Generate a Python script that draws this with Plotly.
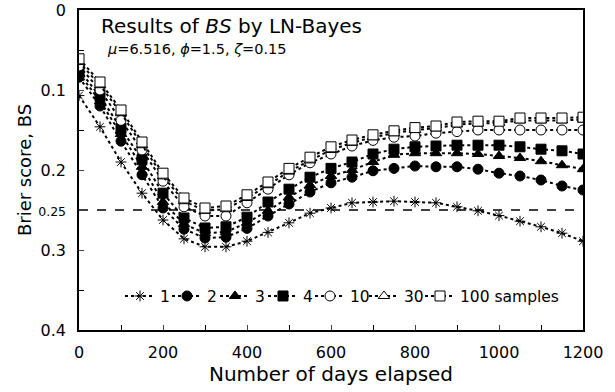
import plotly.graph_objects as go

days = list(range(0, 1201, 50))

bs_1 = [0.107, 0.146, 0.19, 0.229, 0.2625, 0.286, 0.296, 0.296, 0.289, 0.278, 0.266, 0.254, 0.2475,
        0.241, 0.24, 0.239, 0.24, 0.241, 0.246, 0.251, 0.257, 0.264, 0.271, 0.279, 0.289]
bs_2 = [0.084, 0.12, 0.164, 0.206, 0.2475, 0.274, 0.285, 0.284, 0.273, 0.2575, 0.2425, 0.2275, 0.216,
        0.209, 0.201, 0.198, 0.195, 0.196, 0.196, 0.199, 0.204, 0.2075, 0.2125, 0.22, 0.225]
bs_3 = [0.079, 0.114, 0.155, 0.196, 0.24, 0.2675, 0.279, 0.2775, 0.266, 0.251, 0.234, 0.219, 0.2075,
        0.2, 0.19, 0.181, 0.179, 0.179, 0.179, 0.18, 0.1825, 0.185, 0.189, 0.194, 0.199]
bs_4 = [0.075, 0.108, 0.148, 0.187, 0.229, 0.26, 0.2725, 0.271, 0.259, 0.24, 0.224, 0.209, 0.198,
        0.19, 0.18, 0.174, 0.171, 0.17, 0.169, 0.169, 0.169, 0.171, 0.174, 0.176, 0.18]
bs_10 = [0.07, 0.1, 0.138, 0.175, 0.214, 0.246, 0.2575, 0.2575, 0.241, 0.224, 0.206, 0.191, 0.18,
         0.17, 0.163, 0.159, 0.1575, 0.154, 0.152, 0.15, 0.15, 0.15, 0.15, 0.15, 0.15]
bs_30 = [0.065, 0.094, 0.129, 0.169, 0.208, 0.239, 0.251, 0.249, 0.235, 0.219, 0.202, 0.188, 0.175,
         0.166, 0.159, 0.154, 0.15, 0.148, 0.143, 0.142, 0.141, 0.138, 0.138, 0.138, 0.137]
bs_100 = [0.061, 0.09, 0.125, 0.165, 0.204, 0.235, 0.2475, 0.245, 0.231, 0.215, 0.198, 0.184, 0.171,
          0.1625, 0.156, 0.151, 0.147, 0.145, 0.14, 0.139, 0.139, 0.135, 0.135, 0.135, 0.134]

series_names = ["1", "2", "3", "4", "10", "30", "100 samples"]
series_vals = [bs_1, bs_2, bs_3, bs_4, bs_10, bs_30, bs_100]
symbols = ["asterisk-open", "circle", "triangle-up", "square", "circle", "triangle-up", "square"]
fills = ["black", "black", "black", "black", "white", "white", "white"]
sizes = [9, 10, 10, 10, 10, 10, 10]
legend_widths = [2, 3, 3, 2, 9, 11, 0]

y_tickvals = [0, 0.1, 0.2, 0.25, 0.3, 0.4]
y_ticktext = ["0", "0.1", "0.2", "<span style='font-size:12.5px'>0.25</span>", "0.3", "0.4"]
x_tickvals = [0, 200, 400, 600, 800, 1000, 1200]

fig = go.Figure()
for name, vals, sym, fc, sz, lw in zip(series_names, series_vals, symbols, fills, sizes, legend_widths):
    fig.add_trace(go.Scatter(
        x=days, y=vals, name=name, mode="lines+markers",
        line=dict(color="black", width=2, dash="dot"),
        marker=dict(symbol=sym, size=sz, color=fc if sym != "asterisk-open" else "black",
                    line=dict(color="black", width=1)),
        legendwidth=lw if lw else None,
    ))

fig.add_shape(type="line", xref="x", yref="y", x0=0, x1=1200, y0=0.25, y1=0.25,
              line=dict(color="black", width=1.3, dash="dash"), layer="below")

font_family = "DejaVu Sans, Verdana, sans-serif"
fig.update_layout(
    width=615, height=392,
    margin=dict(l=79, r=32, t=10, b=62, autoexpand=False),
    plot_bgcolor="white", paper_bgcolor="white",
    font=dict(family=font_family, color="black", size=15),
    showlegend=True,
    legend=dict(orientation="h", x=(120 - 79) / 504, y=0.105, xanchor="left", yanchor="middle",
                font=dict(size=15.5), bgcolor="rgba(0,0,0,0)", itemwidth=30,
                tracegroupgap=0),
    xaxis=dict(range=[0, 1200], tickvals=x_tickvals, ticks="inside", ticklen=5,
               showline=True, linecolor="black", linewidth=1.5, mirror=True, automargin=False,
               showgrid=False, zeroline=False, tickfont=dict(size=16), ticklabelstandoff=7,
               minor=dict(dtick=100, ticks="inside", ticklen=5, tickcolor="black", showgrid=False),
               title=dict(text="Number of days elapsed", font=dict(size=20), standoff=6)),
    yaxis=dict(range=[0.4, 0], tickvals=y_tickvals, ticktext=y_ticktext, ticks="inside", ticklen=5,
               showline=True, linecolor="black", linewidth=1.5, mirror=True, automargin=False,
               showgrid=False, zeroline=False, tickfont=dict(size=16), ticklabelstandoff=8,
               minor=dict(tickvals=[0.05, 0.15, 0.35], ticks="inside", ticklen=5, tickcolor="black", showgrid=False),
               title=dict(text="Brier score, BS", font=dict(size=18), standoff=2)),
    annotations=[
        dict(text="Results of <i>BS</i> by LN-Bayes", xref="paper", yref="paper", x=0.039, y=0.95,
             xanchor="left", yanchor="middle", showarrow=False, font=dict(size=20)),
        dict(text="<i>μ</i>=6.516, <i>ϕ</i>=1.5, <i>ζ</i>=0.15", xref="paper", yref="paper", x=0.051, y=0.878,
             xanchor="left", yanchor="middle", showarrow=False, font=dict(size=14.5)),
    ],
)

fig.write_html("out.html")
